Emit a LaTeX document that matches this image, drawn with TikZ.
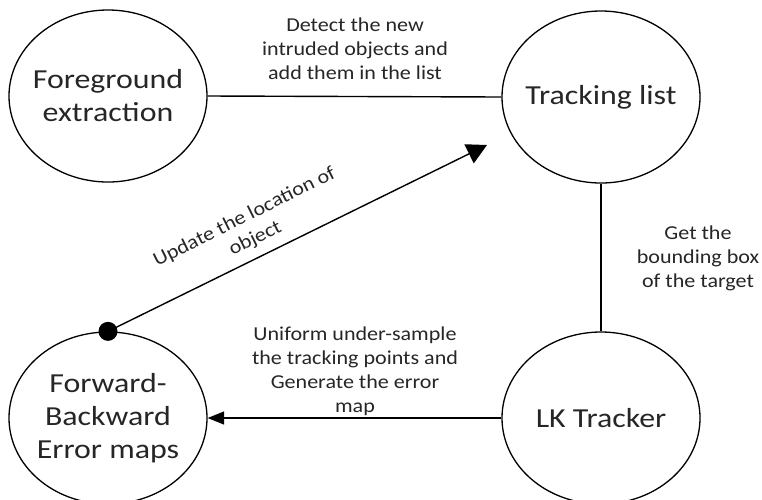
\documentclass[tikz,border=0pt]{standalone}
\usepackage{fontspec}
\setmainfont{Carlito}
\newfontfamily\bigfont[FakeStretch=1.16]{Carlito}
\newfontfamily\smallfont[FakeStretch=1.12]{Carlito}
\usetikzlibrary{shapes.geometric,arrows.meta}
\definecolor{txt}{gray}{0.15}
\begin{document}
\begin{tikzpicture}[x=1pt,y=-1pt,
  st/.style={ellipse, draw, line width=1.3pt, minimum width=198pt, minimum height=172pt, inner sep=0pt},
  bigtxt/.style={font=\bigfont\fontsize{27.5}{33}\selectfont, text=txt, align=center},
  lbl/.style={font=\smallfont\fontsize{19.7}{24}\selectfont, text=txt, align=center},
  conn/.style={line width=1.4pt}]
\clip (0,0) rectangle (762,499);
\node[st, label={[bigtxt]center:{Foreground\\extraction}}] (fe) at (108,96) {};
\node[st, label={[bigtxt]center:{Tracking list}}] (tl) at (601,97) {};
\node[st, label={[bigtxt]center:{Forward-\\Backward\\Error maps}}] (fb) at (108,418) {};
\node[st, label={[bigtxt]center:{LK Tracker}}] (lk) at (601,418) {};

\node[lbl] (l1) at (355,49) {Detect the new\\intruded objects and\\add them in the list};
\node[lbl] (l2) at (698,258) {Get the\\bounding box\\of the target};
\node[lbl] (l3) at (355,371) {Uniform under-sample\\the tracking points and\\Generate the error\\map};
\node[lbl, rotate=26.5] (l4) at (250,228) {Update the location of\\object};

\coordinate (tip) at (487,145);
\draw[conn] (fe.east) -- (tl.west);
\draw[conn] (tl.south) -- (lk.north);
\draw[conn, -{Triangle[length=16.5pt,width=13pt]}] (lk.west) -- (fb.east);
\draw[conn, -{Triangle[length=20pt,width=21pt]}] (fb.north) -- (tip);
\fill (fb.north) circle[radius=9.5pt];
\end{tikzpicture}
\end{document}
